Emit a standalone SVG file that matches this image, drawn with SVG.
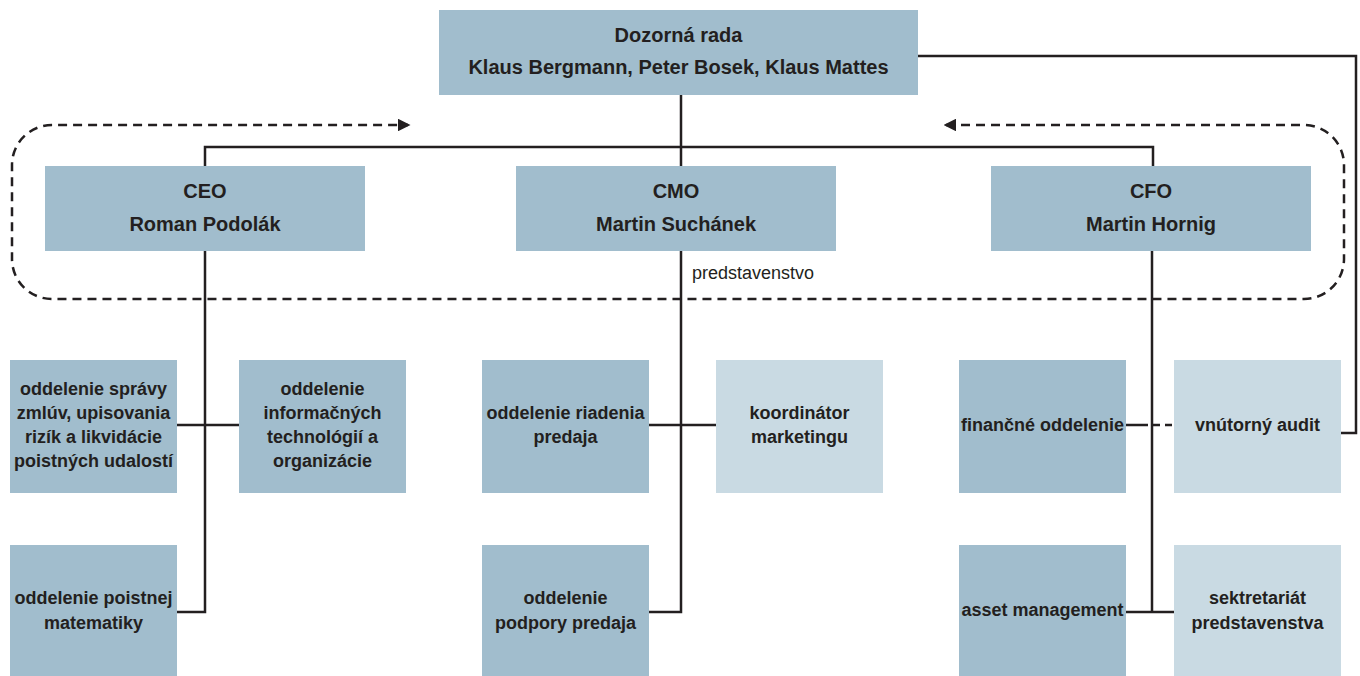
<svg xmlns="http://www.w3.org/2000/svg" width="1360" height="676" viewBox="0 0 1360 676">
<style>
.b{fill:#a1bdcd}
.l{fill:#c9dae3}
.t{font-family:"Liberation Sans Narrow","Liberation Sans",Arial,sans-serif;font-weight:bold;fill:#231f20;text-anchor:middle}
.h{font-size:20px}
.d{font-size:18px}
.c{fill:none;stroke:#231f20;stroke-width:2.5}
.dash{fill:none;stroke:#231f20;stroke-width:2.5;stroke-dasharray:9 6}
</style>
<defs>
<marker id="ah" viewBox="0 0 10 10" refX="8" refY="5" markerWidth="5" markerHeight="5" orient="auto-start-reverse" markerUnits="strokeWidth">
<path d="M0,0 L10,5 L0,10 z" fill="#231f20"/>
</marker>
</defs>
<g id="connectors">
<path class="dash" d="M946,125 H1304 A40,40 0 0 1 1344,165 V259 A40,40 0 0 1 1304,299 H52 A40,40 0 0 1 12,259 V165 A40,40 0 0 1 52,125 H408" marker-start="url(#ah)" marker-end="url(#ah)"/>
<path class="c" d="M681,95 V147 M205,166 V147 H1153 V166 M681,147 V166"/>
<path class="c" d="M918,56 H1356 V433 H1341"/>
<path class="c" d="M205,251 V612 H177 M177,425 H239"/>
<path class="c" d="M681,251 V612 H649 M649,425 H716"/>
<path class="c" d="M1152,251 V612 M1126,612 H1174 M1126,425 H1141"/>
<path class="dash" d="M1141,425 H1174" style="stroke-dasharray:7 5"/>
</g>
<g id="dozorna-rada"><rect class="b" x="439" y="10" width="479" height="85"/>
<text class="t h" x="678.5" y="42">Dozorná rada</text>
<text class="t h" x="678.5" y="74">Klaus Bergmann, Peter Bosek, Klaus Mattes</text></g>
<g id="ceo"><rect class="b" x="45" y="166" width="320" height="85"/>
<text class="t h" x="205" y="198">CEO</text><text class="t h" x="205" y="231">Roman Podolák</text></g>
<g id="cmo"><rect class="b" x="516" y="166" width="320" height="85"/>
<text class="t h" x="676" y="198">CMO</text><text class="t h" x="676" y="231">Martin Suchánek</text></g>
<g id="cfo"><rect class="b" x="991" y="166" width="320" height="85"/>
<text class="t h" x="1151" y="198">CFO</text><text class="t h" x="1151" y="231">Martin Hornig</text></g>
<text id="predstavenstvo" x="692" y="279" style="font-family:'Liberation Sans Narrow','Liberation Sans',Arial,sans-serif;font-size:18px;fill:#231f20">predstavenstvo</text>
<g id="spravy"><rect class="b" x="10" y="360" width="167" height="133"/>
<text class="t d" x="93.5" y="395">oddelenie správy</text><text class="t d" x="93.5" y="419">zmlúv, upisovania</text><text class="t d" x="93.5" y="443">rizík a likvidácie</text><text class="t d" x="93.5" y="467">poistných udalostí</text></g>
<g id="it"><rect class="b" x="239" y="360" width="167" height="133"/>
<text class="t d" x="322.5" y="395">oddelenie</text><text class="t d" x="322.5" y="419">informačných</text><text class="t d" x="322.5" y="443">technológií a</text><text class="t d" x="322.5" y="467">organizácie</text></g>
<g id="matematiky"><rect class="b" x="10" y="545" width="167" height="131"/>
<text class="t d" x="93.5" y="604">oddelenie poistnej</text><text class="t d" x="93.5" y="629">matematiky</text></g>
<g id="riadenia"><rect class="b" x="482" y="360" width="167" height="133"/>
<text class="t d" x="565.5" y="419">oddelenie riadenia</text><text class="t d" x="565.5" y="443">predaja</text></g>
<g id="koordinator"><rect class="l" x="716" y="360" width="167" height="133"/>
<text class="t d" x="799.5" y="419">koordinátor</text><text class="t d" x="799.5" y="443">marketingu</text></g>
<g id="podpory"><rect class="b" x="482" y="545" width="167" height="131"/>
<text class="t d" x="565.5" y="604">oddelenie</text><text class="t d" x="565.5" y="629">podpory predaja</text></g>
<g id="financne"><rect class="b" x="959" y="360" width="167" height="133"/>
<text class="t d" x="1042.5" y="431">finančné oddelenie</text></g>
<g id="audit"><rect class="l" x="1174" y="360" width="167" height="133"/>
<text class="t d" x="1257.5" y="431">vnútorný audit</text></g>
<g id="asset"><rect class="b" x="959" y="545" width="167" height="131"/>
<text class="t d" x="1042.5" y="616">asset management</text></g>
<g id="sekretariat"><rect class="l" x="1174" y="545" width="167" height="131"/>
<text class="t d" x="1257.5" y="604">sektretariát</text><text class="t d" x="1257.5" y="629">predstavenstva</text></g>
</svg>
